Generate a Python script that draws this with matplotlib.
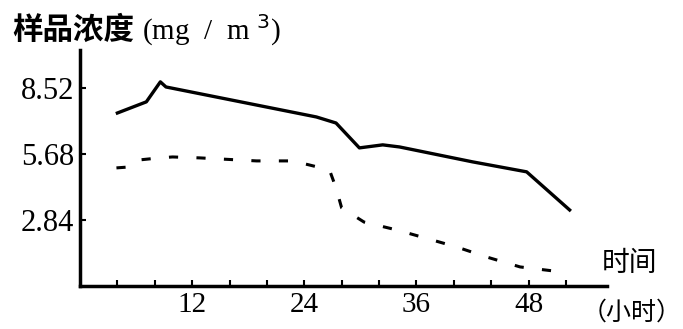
import numpy as np
import matplotlib.pyplot as plt

# data (hours, mg/m^3)
solid_hours = [4.0, 7.1, 8.6, 9.2, 25.3, 27.4, 29.9, 32.4, 34.2, 42.0, 47.8, 52.4]
solid_conc = [7.44, 7.92, 8.78, 8.56, 7.27, 7.01, 5.94, 6.07, 5.98, 5.34, 4.91, 3.27]

dash_hours = [3.9, 5.3, 6.3, 8.5, 9.9, 12.8, 18.9, 22.7, 24.5, 26.7, 27.4, 28.0,
              30.4, 33.9, 36.9, 40.3, 43.5, 47.1, 50.6, 51.7]
dash_conc = [5.08, 5.12, 5.42, 5.51, 5.55, 5.51, 5.38, 5.38, 5.21, 4.99, 4.22, 3.36,
             2.75, 2.41, 2.07, 1.68, 1.25, 0.82, 0.65, 0.65]

x_ticks = [4, 8, 12, 16, 20, 24, 28, 32, 36, 40, 44, 48, 52]
x_labels = ['', '', '12', '', '', '24', '', '', '36', '', '', '48', '']
y_ticks = [2.84, 5.68, 8.52]
y_labels = ['2.84', '5.68', '8.52']

num_font = 'Liberation Serif'
cjk_font = ['Noto Sans CJK SC', 'DejaVu Sans']

fig = plt.figure(figsize=(6.83, 3.29), dpi=100)
ax = fig.add_axes([80/683, 1 - 286/329, 527/683, 236/329])

ax.plot(solid_hours, solid_conc, color='black', lw=2.4, solid_joinstyle='round')
ax.plot(dash_hours, dash_conc, color='black', lw=2.2, dashes=(3, 6))

ax.set_xlim(0, 56.4)
ax.set_ylim(0, 10.15)

for s in ['top', 'right']:
    ax.spines[s].set_visible(False)
for s in ['left', 'bottom']:
    ax.spines[s].set_linewidth(2.5)

ax.set_xticks(x_ticks)
ax.set_xticklabels(x_labels, fontfamily=num_font, fontsize=21)
ax.set_yticks(y_ticks)
ax.set_yticklabels(y_labels, fontfamily=num_font, fontsize=22)
ax.tick_params(axis='both', direction='in', length=4, width=1.5, pad=4)

# axis titles
fig.text(12/683, 1 - 30/329, '样品浓度', family=cjk_font, fontsize=22,
         fontweight='bold', ha='left', va='center')
fig.text(142/683, 1 - 30/329, '(mg  /  m $^3$)', family=num_font, fontsize=21,
         ha='left', va='center')
fig.text(630/683, 1 - 263/329, '时间', family=cjk_font, fontsize=20,
         ha='center', va='center')
fig.text(632/683, 1 - 313/329, '（小时）', family=cjk_font, fontsize=18,
         ha='center', va='center')

plt.savefig('out.png', dpi=100)
